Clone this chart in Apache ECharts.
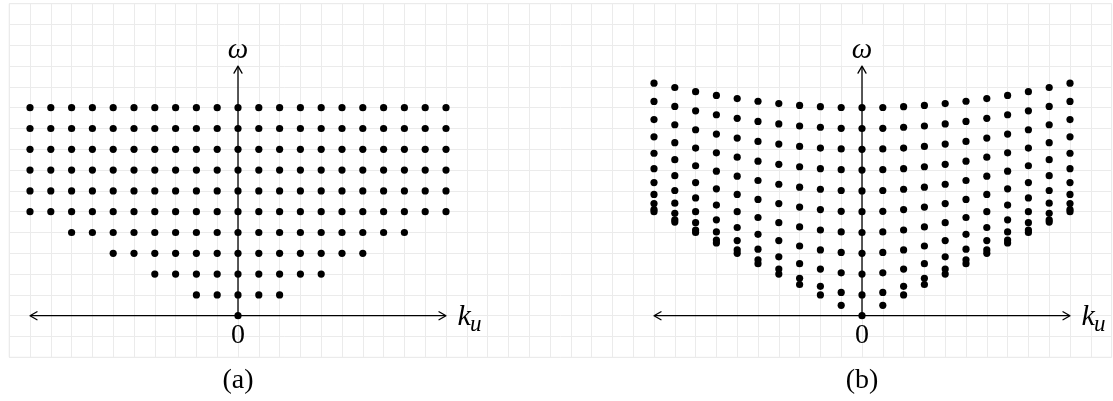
<!DOCTYPE html>
<html>
<head>
<meta charset="utf-8">
<script src="https://cdn.jsdelivr.net/npm/echarts@6/dist/echarts.min.js"></script>
<style>
  html, body { margin: 0; padding: 0; background: #fff; }
  #chart { width: 1113px; height: 401px; }
</style>
</head>
<body>
<div id="chart"></div>
<script>
// Panel (a): each lattice row, its frequency level and the wavenumber range it fills
const rowOmegaA = [0, 1, 2, 3, 4, 5, 6, 7, 8, 9, 10];
const rowKMinA  = [0, -2, -4, -6, -8, -10, -10, -10, -10, -10, -10];
const rowKMaxA  = [0, 2, 4, 6, 8, 10, 10, 10, 10, 10, 10];

// Panel (b): one column of mode frequencies for every wavenumber
const columnKB = [-10, -9, -8, -7, -6, -5, -4, -3, -2, -1, 0, 1, 2, 3, 4, 5, 6, 7, 8, 9, 10];
const columnOmegaB = [
  [5.00, 5.10, 5.39, 5.83, 6.40, 7.07, 7.81, 8.60, 9.43, 10.30, 11.18],
  [4.50, 4.61, 4.92, 5.41, 6.02, 6.73, 7.50, 8.32, 9.18, 10.06, 10.97],
  [4.00, 4.12, 4.47, 5.00, 5.66, 6.40, 7.21, 8.06, 8.94, 9.85, 10.77],
  [3.50, 3.64, 4.03, 4.61, 5.32, 6.10, 6.95, 7.83, 8.73, 9.66, 10.59],
  [3.00, 3.16, 3.61, 4.24, 5.00, 5.83, 6.71, 7.62, 8.54, 9.49, 10.44],
  [2.50, 2.69, 3.20, 3.91, 4.72, 5.59, 6.50, 7.43, 8.38, 9.34, 10.31],
  [2.00, 2.24, 2.83, 3.61, 4.47, 5.39, 6.32, 7.28, 8.25, 9.22, 10.20],
  [1.50, 1.80, 2.50, 3.35, 4.27, 5.22, 6.18, 7.16, 8.14, 9.12, 10.11],
  [1.00, 1.41, 2.24, 3.16, 4.12, 5.10, 6.08, 7.07, 8.06, 9.06, 10.05],
  [0.50, 1.12, 2.06, 3.04, 4.03, 5.02, 6.02, 7.02, 8.02, 9.01, 10.01],
  [0.00, 1.00, 2.00, 3.00, 4.00, 5.00, 6.00, 7.00, 8.00, 9.00, 10.00],
  [0.50, 1.12, 2.06, 3.04, 4.03, 5.02, 6.02, 7.02, 8.02, 9.01, 10.01],
  [1.00, 1.41, 2.24, 3.16, 4.12, 5.10, 6.08, 7.07, 8.06, 9.06, 10.05],
  [1.50, 1.80, 2.50, 3.35, 4.27, 5.22, 6.18, 7.16, 8.14, 9.12, 10.11],
  [2.00, 2.24, 2.83, 3.61, 4.47, 5.39, 6.32, 7.28, 8.25, 9.22, 10.20],
  [2.50, 2.69, 3.20, 3.91, 4.72, 5.59, 6.50, 7.43, 8.38, 9.34, 10.31],
  [3.00, 3.16, 3.61, 4.24, 5.00, 5.83, 6.71, 7.62, 8.54, 9.49, 10.44],
  [3.50, 3.64, 4.03, 4.61, 5.32, 6.10, 6.95, 7.83, 8.73, 9.66, 10.59],
  [4.00, 4.12, 4.47, 5.00, 5.66, 6.40, 7.21, 8.06, 8.94, 9.85, 10.77],
  [4.50, 4.61, 4.92, 5.41, 6.02, 6.73, 7.50, 8.32, 9.18, 10.06, 10.97],
  [5.00, 5.10, 5.39, 5.83, 6.40, 7.07, 7.81, 8.60, 9.43, 10.30, 11.18]
];

// Axis extents in lattice units and the text drawn on each panel
const kAxisEnds = [-10, 10];
const omegaAxisTop = 12;
const omegaLabel = 'ω';
const kLabel = 'k';
const kSubscript = 'u';
const originLabel = '0';
const panelCaptions = ['(a)', '(b)'];

// Expand panel (a) rows into points
const pointsA = [];
rowOmegaA.forEach((w, i) => {
  for (let k = rowKMinA[i]; k <= rowKMaxA[i]; k++) pointsA.push([k, w]);
});
// Expand panel (b) columns into points
const pointsB = [];
columnKB.forEach((k, i) => {
  columnOmegaB[i].forEach(w => pointsB.push([k, w]));
});

const CELL = 20.8;
const ORIGIN_Y = 315.7;
const GRID_COLOR = '#ebebeb';
const INK = '#000';
const SERIF = '"Liberation Serif", "DejaVu Serif", serif';

function panelAxes(gridIdx) {
  return {
    x: { type: 'value', gridIndex: gridIdx, min: -11, max: 11, show: false },
    y: { type: 'value', gridIndex: gridIdx, min: -2, max: 14, show: false }
  };
}

function chevron(tip, dx, dy) {
  // open arrow head pointing along (dx, dy)
  const len = 7, half = 4;
  const nx = -dy, ny = dx;
  return {
    type: 'polyline',
    shape: { points: [
      [tip[0] - dx * len + nx * half, tip[1] - dy * len + ny * half],
      tip,
      [tip[0] - dx * len - nx * half, tip[1] - dy * len - ny * half]
    ] },
    style: { stroke: INK, fill: null, lineWidth: 1.3, lineJoin: 'round', lineCap: 'round' }
  };
}

function renderAxes(params, api) {
  const left = api.coord([kAxisEnds[0], 0]);
  const right = api.coord([kAxisEnds[1], 0]);
  const bottom = api.coord([0, 0]);
  const top = api.coord([0, omegaAxisTop]);
  return {
    type: 'group',
    children: [
      { type: 'line', shape: { x1: left[0] + 1, y1: left[1], x2: right[0] - 1, y2: right[1] },
        style: { stroke: INK, lineWidth: 1.3 } },
      { type: 'line', shape: { x1: bottom[0], y1: bottom[1], x2: top[0], y2: top[1] + 1 },
        style: { stroke: INK, lineWidth: 1.3 } },
      chevron(left, -1, 0),
      chevron(right, 1, 0),
      chevron(top, 0, -1)
    ]
  };
}

function makeLabelRenderer(caption) {
  return function (params, api) {
    const w = api.coord([0, 12.78]);
    const kPos = api.coord([10.55, 0]);
    const o = api.coord([0, -0.95]);
    const c = api.coord([0, -3.12]);
    return {
      type: 'group',
      children: [
        { type: 'text', x: w[0], y: w[1],
          style: { text: omegaLabel, font: 'italic 29px ' + SERIF, fill: INK, align: 'center', verticalAlign: 'middle' } },
        { type: 'text', x: kPos[0], y: kPos[1] + 1,
          style: { text: kLabel, font: 'italic 30px ' + SERIF, fill: INK, align: 'left', verticalAlign: 'middle' } },
        { type: 'text', x: kPos[0] + 12.5, y: kPos[1] + 9,
          style: { text: kSubscript, font: 'italic 23px ' + SERIF, fill: INK, align: 'left', verticalAlign: 'middle' } },
        { type: 'text', x: o[0], y: o[1],
          style: { text: originLabel, font: '28px ' + SERIF, fill: INK, align: 'center', verticalAlign: 'middle' } },
        { type: 'text', x: c[0], y: c[1],
          style: { text: caption, font: '28px ' + SERIF, fill: INK, align: 'center', verticalAlign: 'middle' } }
      ]
    };
  };
}

const pa = panelAxes(1), pb = panelAxes(2);

const option = {
  animation: false,
  backgroundColor: '#fff',
  grid: [
    { left: 9.2, top: ORIGIN_Y - 15 * CELL, width: 53 * CELL, height: 17 * CELL,
      show: true, borderColor: GRID_COLOR, borderWidth: 1, backgroundColor: 'transparent' },
    { left: 238 - 11 * CELL, top: ORIGIN_Y - 14 * CELL, width: 22 * CELL, height: 16 * CELL },
    { left: 238 + 19 * CELL, top: ORIGIN_Y - 14 * CELL, width: 22 * CELL, height: 16 * CELL }
  ],
  xAxis: [
    { type: 'value', gridIndex: 0, min: 0, max: 53, interval: 1,
      axisLine: { show: false }, axisTick: { show: false }, axisLabel: { show: false },
      splitLine: { show: true, lineStyle: { color: GRID_COLOR, width: 1 } } },
    pa.x, pb.x
  ],
  yAxis: [
    { type: 'value', gridIndex: 0, min: 0, max: 17, interval: 1,
      axisLine: { show: false }, axisTick: { show: false }, axisLabel: { show: false },
      splitLine: { show: true, lineStyle: { color: GRID_COLOR, width: 1 } } },
    pa.y, pb.y
  ],
  series: [
    // white patch behind the omega label of panel (b)
    { type: 'custom', xAxisIndex: 2, yAxisIndex: 2, z: 1, data: [[0, 0]],
      renderItem: function (params, api) {
        const p1 = api.coord([-1, 14]);
        const p2 = api.coord([1, 12]);
        return { type: 'rect', shape: { x: p1[0] + 0.5, y: p1[1] + 0.5, width: p2[0] - p1[0] - 1, height: p2[1] - p1[1] - 1 },
          style: { fill: '#fff' } };
      } },
    { type: 'custom', xAxisIndex: 1, yAxisIndex: 1, z: 2, data: [[0, 0]], renderItem: renderAxes },
    { type: 'custom', xAxisIndex: 2, yAxisIndex: 2, z: 2, data: [[0, 0]], renderItem: renderAxes },
    { type: 'scatter', xAxisIndex: 1, yAxisIndex: 1, z: 3, data: pointsA,
      symbol: 'circle', symbolSize: 7.2, itemStyle: { color: INK, opacity: 1 } },
    { type: 'scatter', xAxisIndex: 2, yAxisIndex: 2, z: 3, data: pointsB,
      symbol: 'circle', symbolSize: 7.2, itemStyle: { color: INK, opacity: 1 } },
    { type: 'custom', xAxisIndex: 1, yAxisIndex: 1, z: 4, data: [[0, 0]], renderItem: makeLabelRenderer(panelCaptions[0]) },
    { type: 'custom', xAxisIndex: 2, yAxisIndex: 2, z: 4, data: [[0, 0]], renderItem: makeLabelRenderer(panelCaptions[1]) }
  ]
};

const chart = echarts.init(document.getElementById('chart'), null, { renderer: 'canvas' });
chart.setOption(option);
</script>
</body>
</html>
